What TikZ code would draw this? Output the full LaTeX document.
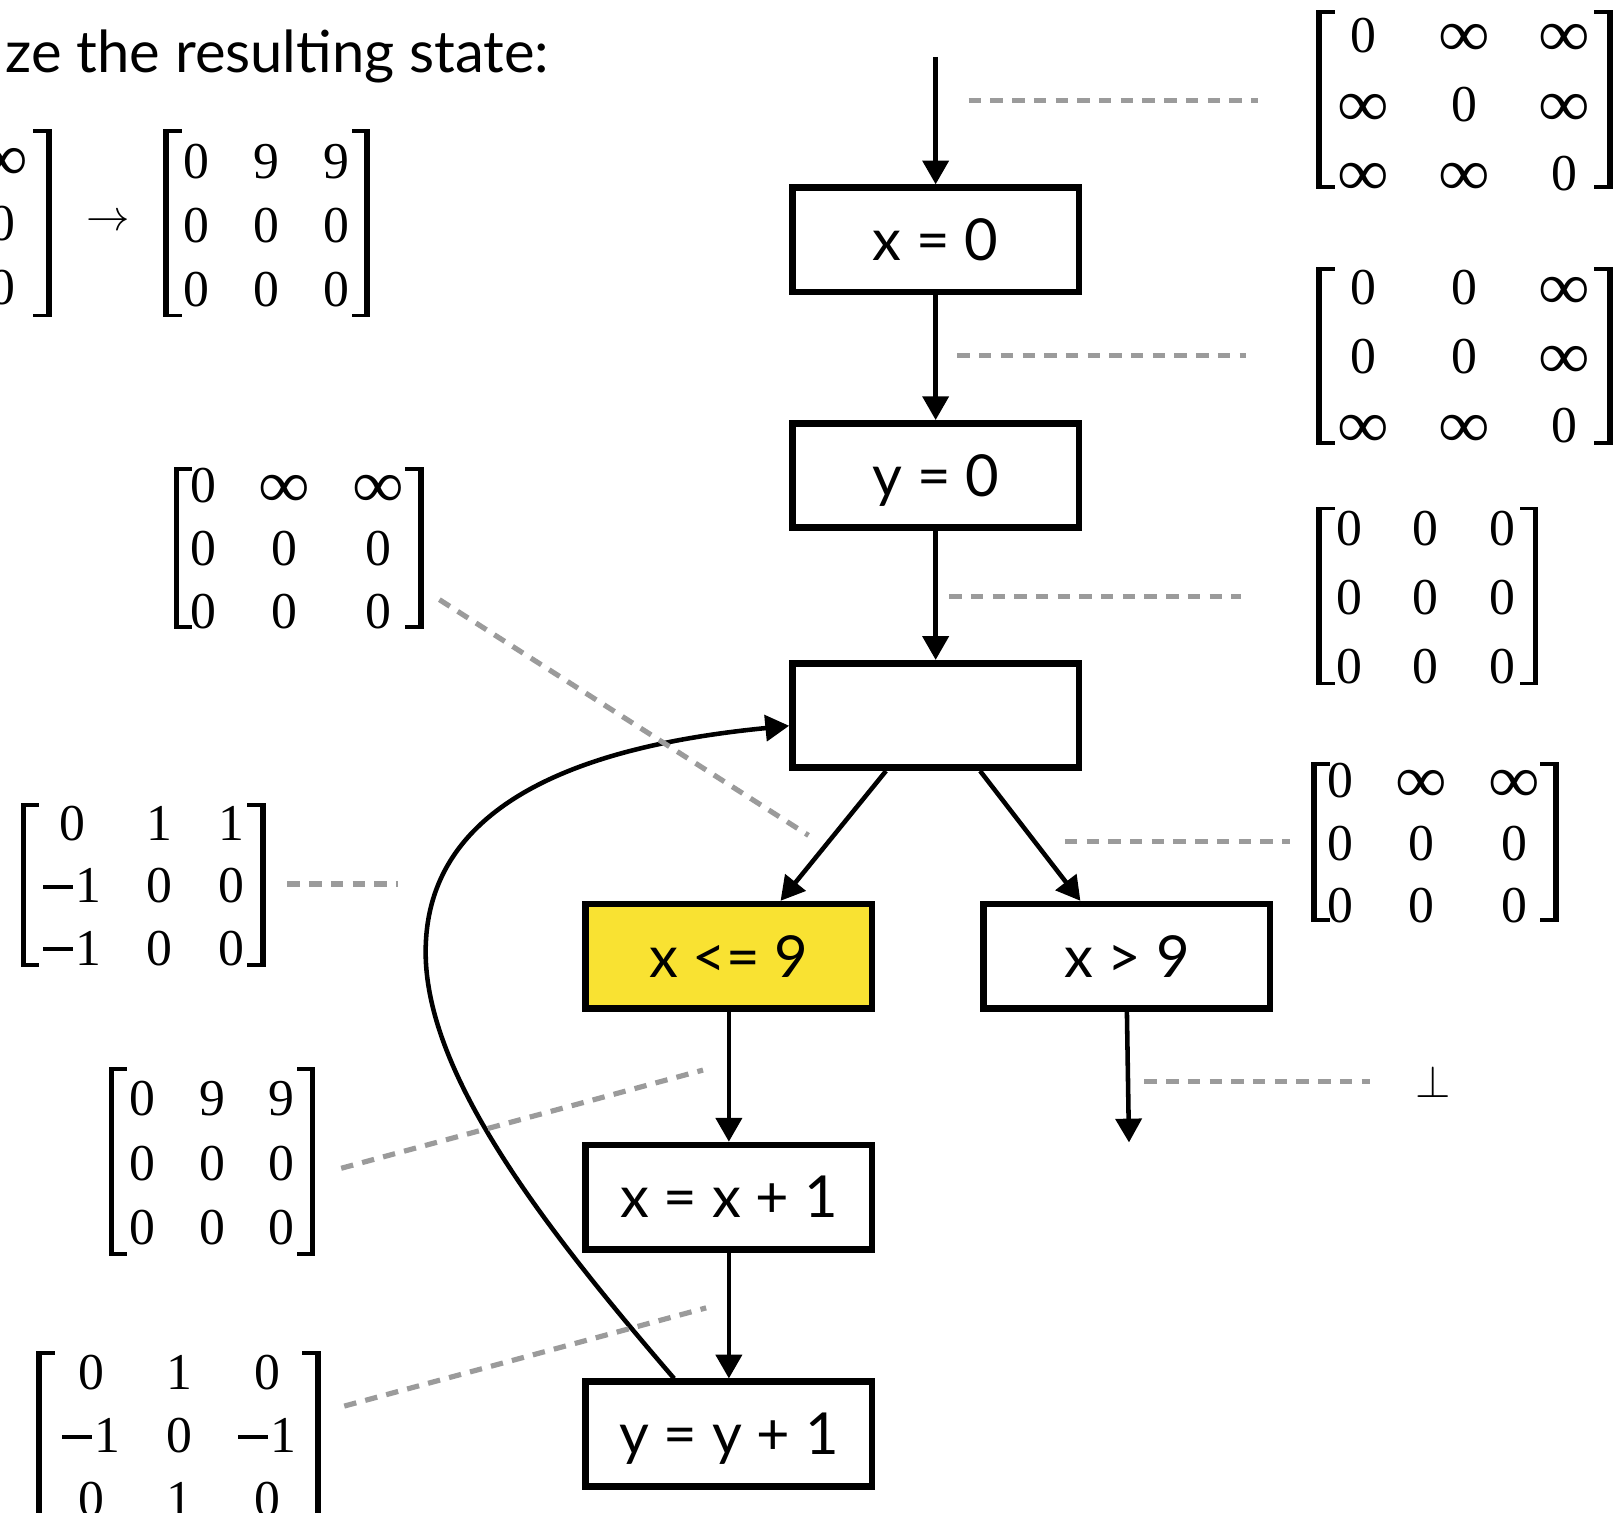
\RequirePackage{fix-cm}
\documentclass[tikz,border=0pt]{standalone}
\usepackage{graphicx}
\usepackage{fontspec}
\newfontfamily\boxfont{Lato}
\newfontfamily\matfont{Liberation Serif}
\usetikzlibrary{arrows.meta,calc}

\definecolor{boxyellow}{RGB}{249,226,50}
\definecolor{leadgrey}{RGB}{155,155,155}

\newcommand{\oo}{\raisebox{-0.09em}{\scalebox{1.4}[1.3]{∞}}}
\newcommand{\mm}{\rule[0.27em]{0.58em}{0.08em}\hspace{0.04em}}
% #1 arraystretch, #2 column gap, #3 content
\newcommand{\mtab}[3]{\renewcommand{\arraystretch}{#1}\begin{tabular}{@{}c@{\hspace{#2}}c@{\hspace{#2}}c@{}}#3\end{tabular}}
% bracket pair: #1 left x, #2 right x, #3 top y, #4 bottom y
\newcommand{\brk}[4]{%
  \fill (#1,#3) rectangle ({#1+5.5},#4);
  \fill (#1,#3) rectangle ({#1+18},{#3+3.7});
  \fill (#1,#4) rectangle ({#1+18},{#4-3.7});
  \fill ({#2-5.5},#3) rectangle (#2,#4);
  \fill ({#2-18},#3) rectangle (#2,{#3+3.7});
  \fill ({#2-18},#4) rectangle (#2,{#4-3.7});
}

\tikzset{
  stmt/.style={draw=black, line width=3.2pt, minimum width=138.5pt, minimum height=50.5pt,
    inner sep=0pt, font=\boxfont\fontsize{28}{32}\selectfont, text height=20pt, text depth=0pt},
  arr/.style={line width=2.2pt, -{Triangle[length=11.5pt,width=12.5pt]}},
  lead/.style={draw=leadgrey, line width=2.5pt, dash pattern=on 6pt off 4.5pt},
  mat/.style={inner sep=0pt, outer sep=0pt, font=\matfont\fontsize{25}{30}\selectfont},
}

\begin{document}
\begin{tikzpicture}[x=0.5pt, y=-0.5pt]
\useasboundingbox (0,0) rectangle (1565,1463);

% title
\node[anchor=base west, inner sep=0pt, font=\boxfont\fontsize{28}{32}\selectfont] (title) at (5,70) {ze the resulting state:};

% statement boxes
\node[stmt] (b1) at (905,232) {x = 0};
\node[stmt] (b2) at (905,460) {y = 0};
\node[stmt] (b3) at (905,692) {};
\node[stmt, fill=boxyellow] (b4) at (705,925) {x <= 9};
\node[stmt] (b5) at (1090,925) {x > 9};
\node[stmt] (b6) at (705,1158) {x = x + 1};
\node[stmt] (b7) at (705,1387) {y = y + 1};

\coordinate (entry) at (905,55);
\coordinate (exit) at (1092,1105);

% control flow edges
\draw[arr] (entry) -- (b1);
\draw[arr] (b1) -- (b2);
\draw[arr] (b2) -- (b3);
\draw[arr] ($(b3.south)+(-48,0)$) -- ($(b4.north)+(50,0)$);
\draw[arr] ($(b3.south)+(43,0)$) -- ($(b5.north)+(-45,0)$);
\draw[arr] (b4) -- (b6);
\draw[arr] (b6) -- (b7);
\draw[arr] (b5.south) -- (exit);
\draw[arr] ($(b7.north)+(-53,0)$) .. controls (520,1180) and (405,1030) .. (412,910)
   .. controls (420,760) and (600,718) .. ($(b3.west)+(0,10)$);

% matrices
\node[mat, anchor=east] (m0) at (27,220) {\mtab{1.033}{19.5pt}{0 & \oo & \oo\\ 0 & 0 & 0\\ 0 & 0 & 0}};
\brk{-192}{50}{125}{307}
\node[font=\fontsize{21}{25}\selectfont, inner sep=0pt] (toarr) at (105,215) {$\rightarrow$};
\node[mat] (m1) at (257.5,222) {\mtab{1.033}{21.25pt}{0 & 9 & 9\\ 0 & 0 & 0\\ 0 & 0 & 0}};
\brk{158}{358}{125}{307}

\node[mat] (m2) at (1416,104) {\mtab{1.117}{23.6pt}{0 & \oo & \oo\\ \oo & 0 & \oo\\ \oo & \oo & 0}};
\brk{1273}{1560}{10}{183}
\node[mat] (m3) at (1416,348) {\mtab{1.117}{23.6pt}{0 & 0 & \oo\\ 0 & 0 & \oo\\ \oo & \oo & 0}};
\brk{1273}{1560}{258}{430}
\node[mat] (m4) at (1379,581) {\mtab{1.108}{24.5pt}{0 & 0 & 0\\ 0 & 0 & 0\\ 0 & 0 & 0}};
\brk{1273}{1488}{490}{663}
\node[mat] (m5) at (1387,820) {\mtab{1.008}{20.3pt}{0 & \oo & \oo\\ 0 & 0 & 0\\ 0 & 0 & 0}};
\brk{1268}{1508}{737}{892}
\node[font=\fontsize{22}{26}\selectfont, inner sep=0pt] (bot) at (1386,1046) {$\perp$};

\node[mat] (m6) at (287.5,535) {\mtab{1.017}{20.5pt}{0 & \oo & \oo\\ 0 & 0 & 0\\ 0 & 0 & 0}};
\brk{168}{410}{452}{608}
\node[mat] (m7) at (139,861) {\mtab{1.008}{22pt}{0 & 1 & 1\\ \mm 1 & 0 & 0\\ \mm 1 & 0 & 0}};
\brk{20}{257}{777}{935}
\node[mat] (m8) at (205,1129) {\mtab{1.042}{21pt}{0 & 9 & 9\\ 0 & 0 & 0\\ 0 & 0 & 0}};
\brk{105}{305}{1032}{1215}
\node[mat] (m9) at (173.5,1393) {\mtab{1.025}{22.3pt}{0 & 1 & 0\\ \mm 1 & 0 & \mm 1\\ 0 & 1 & 0}};
\brk{35}{310}{1307}{1469}

% leader lines
\coordinate (l1a) at (937,97);   \coordinate (l1b) at (1217,97);
\coordinate (l2a) at (926,344);  \coordinate (l2b) at (1205,344);
\coordinate (l3a) at (918,577);  \coordinate (l3b) at (1200,577);
\coordinate (l4a) at (1030,814); \coordinate (l4b) at (1248,814);
\coordinate (l5a) at (1107,1046);\coordinate (l5b) at (1325,1046);
\coordinate (l6a) at (278,855);  \coordinate (l6b) at (385,855);
\coordinate (l7a) at (425,580);  \coordinate (l7b) at (782,808);
\coordinate (l8a) at (330,1130); \coordinate (l8b) at (680,1035);
\coordinate (l9a) at (333,1360); \coordinate (l9b) at (683,1265);
\foreach \i in {1,...,9} { \draw[lead] (l\i a) -- (l\i b); }
\end{tikzpicture}
\end{document}
